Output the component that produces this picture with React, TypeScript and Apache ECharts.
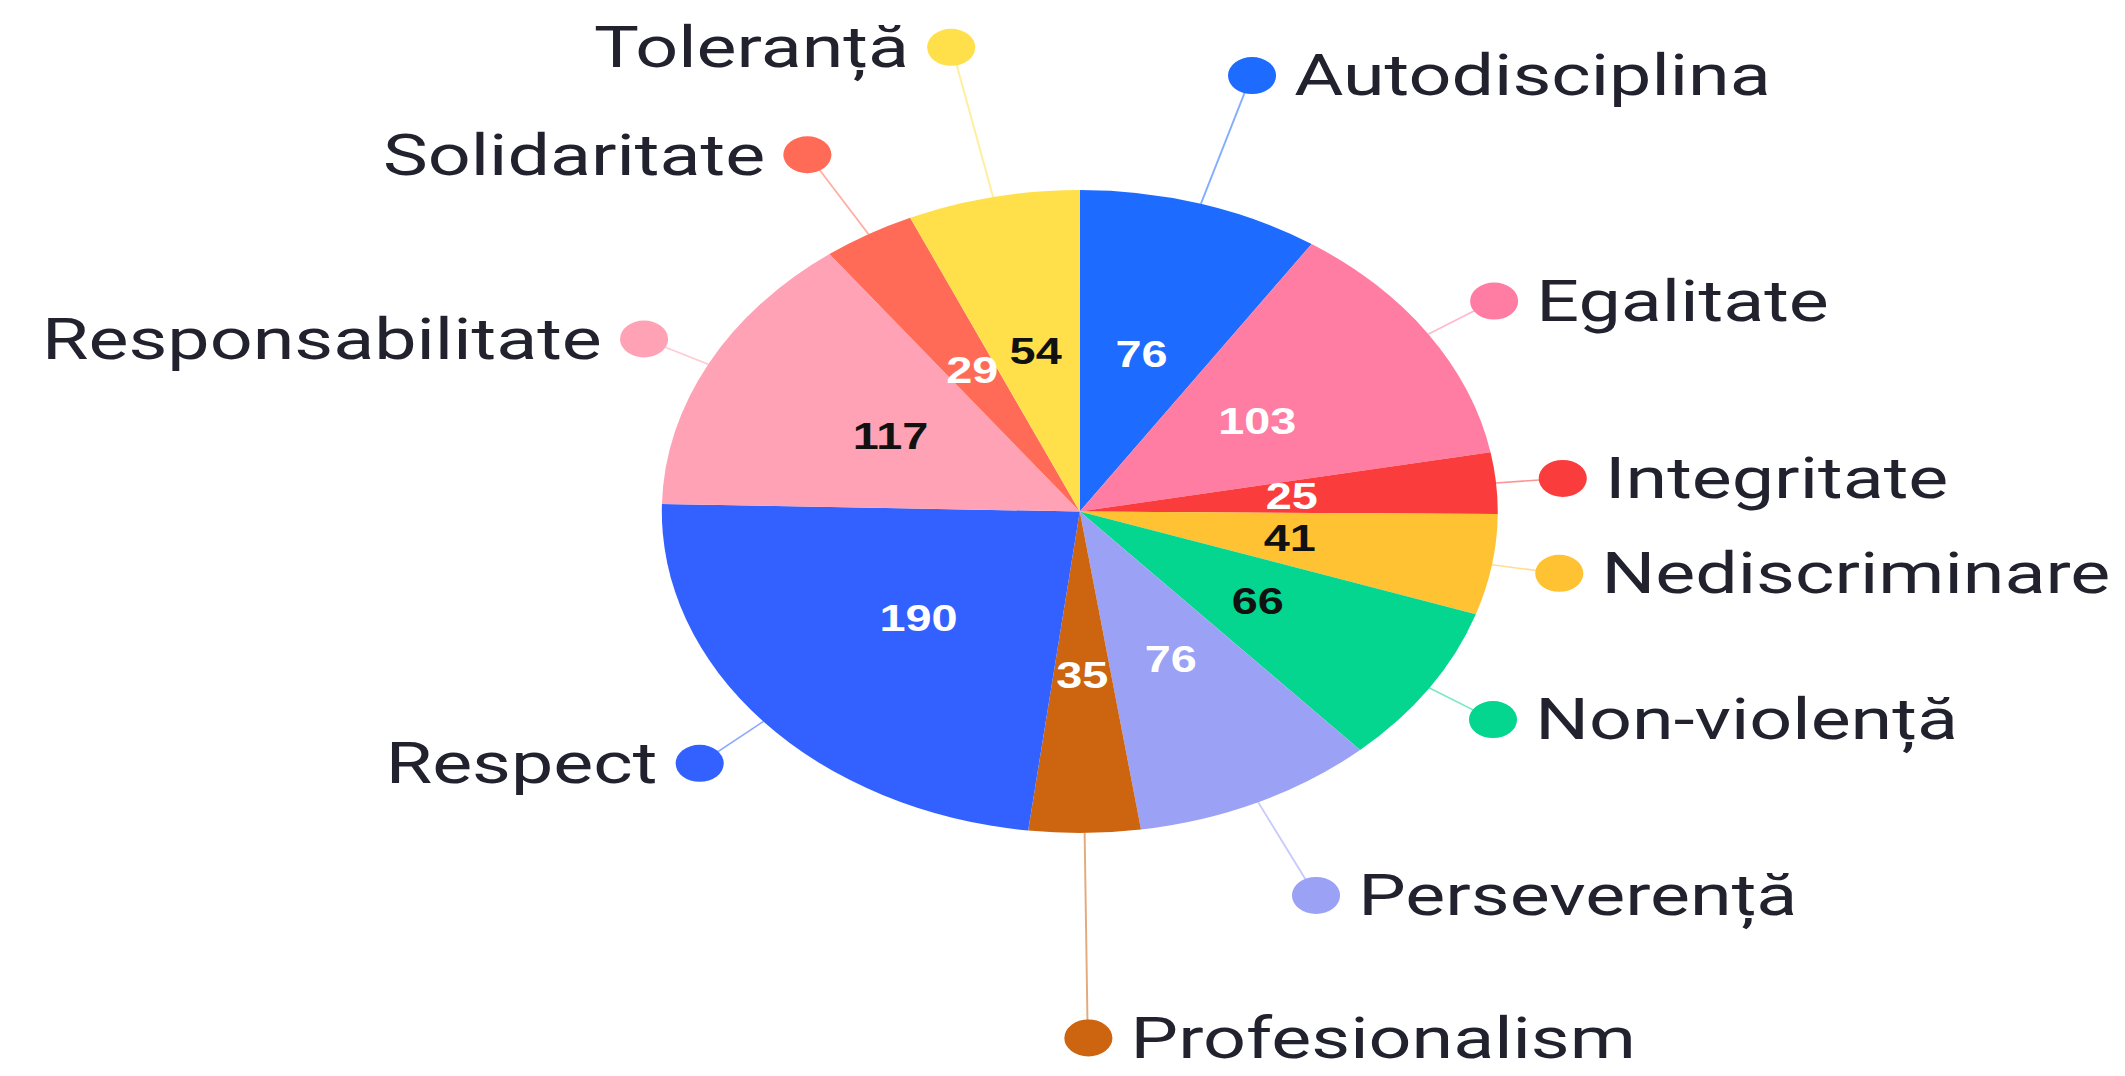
import React, { useEffect, useRef } from "react";
import * as echarts from "echarts";

const categories = [
  "Autodisciplina",
  "Egalitate",
  "Integritate",
  "Nediscriminare",
  "Non-violență",
  "Perseverență",
  "Profesionalism",
  "Respect",
  "Responsabilitate",
  "Solidaritate",
  "Toleranță",
];
const values = [76, 103, 25, 41, 66, 76, 35, 190, 117, 29, 54];

const sliceColors = [
  "#1E6BFF",
  "#FF7CA3",
  "#FA3C3C",
  "#FFC233",
  "#05D68F",
  "#9BA1F5",
  "#CC6410",
  "#3361FF",
  "#FFA2B5",
  "#FF6B57",
  "#FFE04B",
];
const valueLabelColors = ["#ffffff", "#ffffff", "#ffffff", "#111111", "#111111", "#ffffff", "#ffffff", "#ffffff", "#111111", "#ffffff", "#111111"];
const labelLineLengths = [134, 60, 51, 52, 58, 103, 205, 64, 55, 92, 153];

const STRETCH = 1.3;
const W = 2125 / STRETCH;
const H = 1076;
const PAD = 300;
const CX = 830.6;
const CY = 511.5;
const R = 321.5;

export default function App() {
  const ref = useRef<HTMLDivElement>(null);
  useEffect(() => {
    if (!ref.current) return;
    const chart = echarts.init(ref.current, undefined, { renderer: "svg" });
    const total = values.reduce((a, b) => a + b, 0);
    let cum = 0;
    const outerData = values.map((v, i) => {
      const mid = (cum + v / 2) / total;
      cum += v;
      const right = mid < 0.5;
      return {
        name: categories[i],
        value: v,
        itemStyle: { color: sliceColors[i] },
        labelLine: { length: labelLineLengths[i], length2: 1 },
        label: {
          formatter: right ? "{dot|}{nameR|{b}}" : "{nameL|{b}}{dot|}",
          rich: {
            dot: {
              width: 37,
              height: 37,
              borderRadius: 18.5,
              backgroundColor: sliceColors[i],
            },
          },
        },
      };
    });
    const nameStyle = {
      fontSize: 58,
      fontFamily: "Roboto, 'Noto Sans', sans-serif",
      color: "#22222f",
      lineHeight: 54,
    };
    chart.setOption({
      animation: false,
      backgroundColor: "#ffffff",
      series: [
        {
          type: "pie",
          left: -PAD,
          top: 0,
          width: W + 2 * PAD,
          height: H,
          center: [CX + PAD, CY],
          radius: R,
          startAngle: 90,
          clockwise: true,
          avoidLabelOverlap: false,
          silent: true,
          emphasis: { disabled: true },
          label: {
            show: true,
            position: "outside",
            distanceToLabelLine: -19,
            rich: {
              nameR: { ...nameStyle, padding: [0, 0, 0, 14] },
              nameL: { ...nameStyle, padding: [0, 14, 0, 0] },
            },
          },
          labelLine: {
            show: true,
            length2: 1,
            lineStyle: { width: 1.5, opacity: 0.55 },
          },
          data: outerData,
        },
        {
          type: "pie",
          left: -PAD,
          top: 0,
          width: W + 2 * PAD,
          height: H,
          center: [CX + PAD, CY],
          radius: R,
          startAngle: 90,
          clockwise: true,
          silent: true,
          emphasis: { disabled: true },
          itemStyle: { color: "rgba(0,0,0,0)" },
          label: {
            show: true,
            position: "inside",
            formatter: "{c}",
            fontSize: 36,
            fontWeight: "bold",
            fontFamily: "'Liberation Sans', Arial, sans-serif",
          },
          labelLine: { show: false },
          data: values.map((v, i) => ({
            name: categories[i],
            value: v,
            label: { color: valueLabelColors[i] },
          })),
        },
      ],
    });
    return () => chart.dispose();
  }, []);
  return (
    <div
      ref={ref}
      style={{
        position: "fixed",
        left: 0,
        top: 0,
        width: W,
        height: H,
        transform: `scaleX(${STRETCH})`,
        transformOrigin: "0 0",
        background: "#fff",
      }}
    />
  );
}
